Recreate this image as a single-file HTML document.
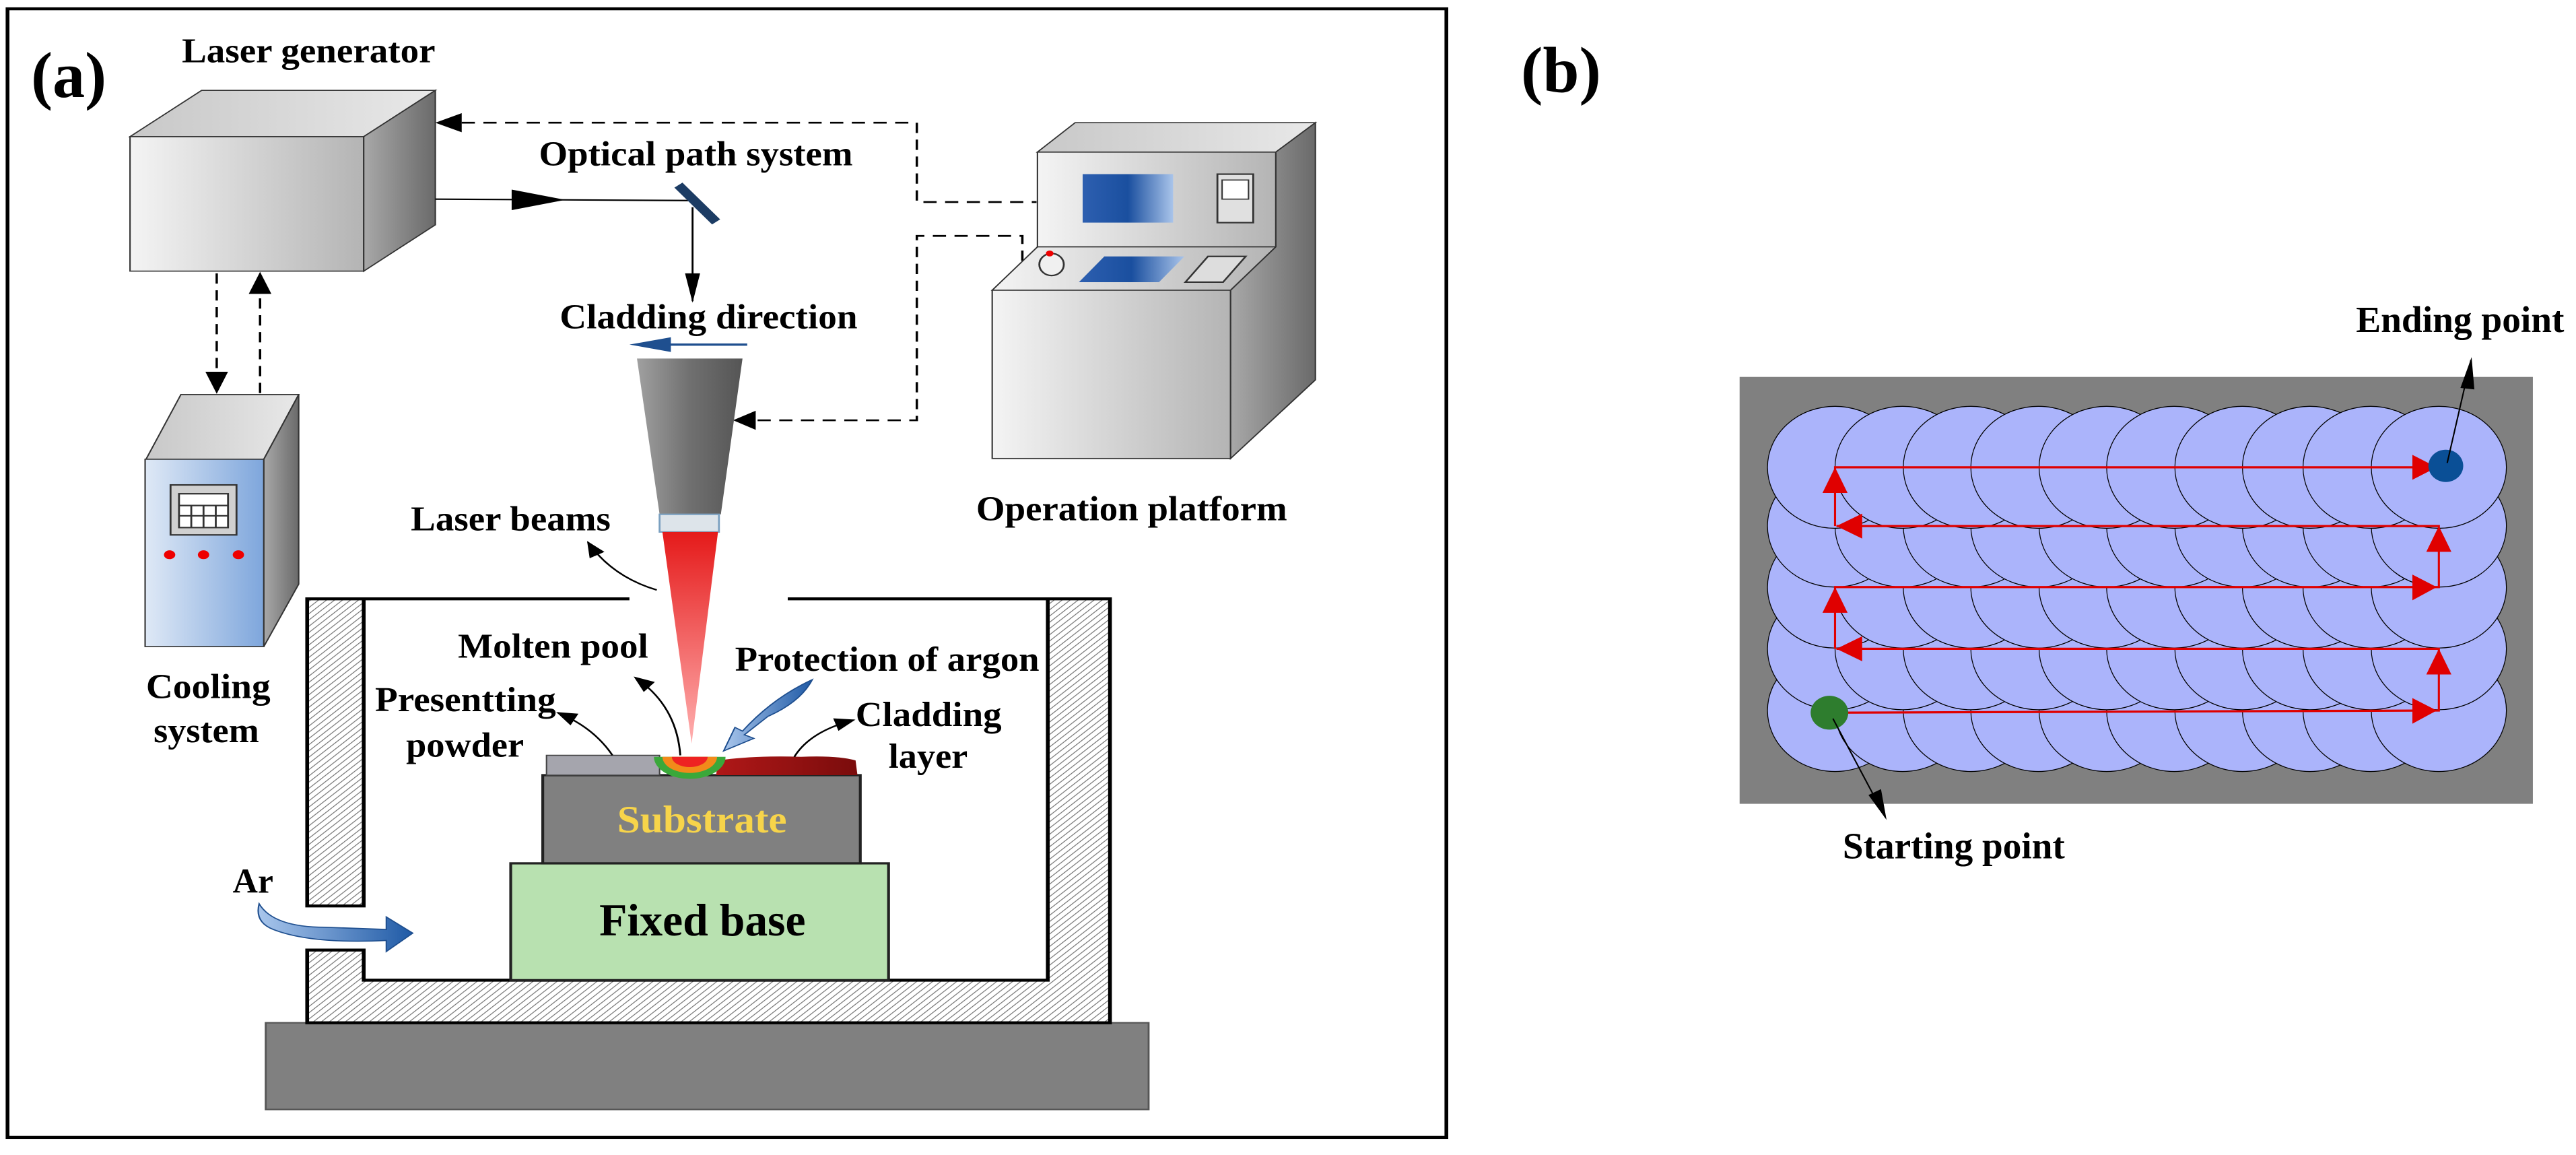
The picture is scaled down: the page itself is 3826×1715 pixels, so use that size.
<!DOCTYPE html>
<html><head><meta charset="utf-8"><style>html,body{margin:0;padding:0;background:#fff}svg{display:block}text{font-family:"Liberation Serif",serif;font-weight:bold}</style></head>
<body>
<svg width="3826" height="1715" viewBox="0 0 3826 1715" xmlns="http://www.w3.org/2000/svg">
<defs>
<linearGradient id="gw" x1="0" x2="1" y1="0" y2="0"><stop offset="0" stop-color="#f4f4f4"/><stop offset="1" stop-color="#b4b4b4"/></linearGradient>
<linearGradient id="gs" x1="0" x2="1"><stop offset="0" stop-color="#a8a8a8"/><stop offset="1" stop-color="#6a6a6a"/></linearGradient>
<linearGradient id="gt" x1="0" x2="1"><stop offset="0" stop-color="#c8c8c8"/><stop offset="1" stop-color="#e8e8e8"/></linearGradient>
<linearGradient id="gb" x1="0" x2="1"><stop offset="0" stop-color="#dfe9f6"/><stop offset="1" stop-color="#7ea6dc"/></linearGradient>
<linearGradient id="gscr" x1="0" x2="1"><stop offset="0" stop-color="#2d5fb0"/><stop offset="0.5" stop-color="#1a4f9f"/><stop offset="1" stop-color="#a9c4ea"/></linearGradient>
<linearGradient id="gn" x1="0" x2="1"><stop offset="0" stop-color="#a0a0a0"/><stop offset="0.5" stop-color="#707070"/><stop offset="1" stop-color="#555"/></linearGradient>
<linearGradient id="gr" x1="0" x2="0" y1="0" y2="1"><stop offset="0" stop-color="#e51a1a"/><stop offset="1" stop-color="#ffb0b0"/></linearGradient>
<linearGradient id="gc" x1="0" x2="1"><stop offset="0" stop-color="#b01818"/><stop offset="1" stop-color="#7a0c0c"/></linearGradient>
<linearGradient id="gar" x1="0" x2="1"><stop offset="0" stop-color="#a9c6ec"/><stop offset="1" stop-color="#1f5aa6"/></linearGradient>
<pattern id="hatch" width="6" height="6" patternUnits="userSpaceOnUse" patternTransform="rotate(45)"><rect width="6" height="6" fill="#fff"/><line x1="0" y1="0" x2="0" y2="6" stroke="#777" stroke-width="2"/></pattern>
<marker id="ah" markerWidth="10" markerHeight="10" refX="9" refY="5" orient="auto" markerUnits="userSpaceOnUse" viewBox="0 0 10 10"><path d="M0,1 L10,5 L0,9 z" fill="#000"/></marker>
<marker id="ahs" markerWidth="22" markerHeight="18" refX="20" refY="9" orient="auto" markerUnits="userSpaceOnUse"><path d="M0,0 L22,9 L0,18 z" fill="#000"/></marker>
</defs>

<g transform="scale(1.3995,1.0910)">
<rect x="8" y="12" width="1527" height="1536" fill="none" stroke="#000" stroke-width="4"/>
<text x="33" y="132" font-size="88" textLength="80" lengthAdjust="spacingAndGlyphs">(a)</text>
<text x="193" y="85" font-size="48" textLength="269" lengthAdjust="spacingAndGlyphs">Laser generator</text>

<!-- laser generator -->
<polygon points="138,186 214,123 462,123 386,186" fill="url(#gt)" stroke="#333" stroke-width="1.5"/>
<rect x="138" y="186" width="248" height="183" fill="url(#gw)" stroke="#333" stroke-width="1.5"/>
<polygon points="386,186 462,123 462,306 386,369" fill="url(#gs)" stroke="#333" stroke-width="1.5"/>

<!-- beam -->
<line x1="462" y1="271" x2="735" y2="273" stroke="#000" stroke-width="2"/>
<polygon points="543,258 600,272 543,286" fill="#000"/>
<line x1="720" y1="252" x2="760" y2="302" stroke="#1c3c64" stroke-width="11"/>
<line x1="735" y1="282" x2="735" y2="410" stroke="#000" stroke-width="2"/>
<polygon points="727,372 735,412 743,372" fill="#000"/>
<text x="572" y="225" font-size="48" textLength="333" lengthAdjust="spacingAndGlyphs">Optical path system</text>
<text x="594" y="447" font-size="48" textLength="316" lengthAdjust="spacingAndGlyphs">Cladding direction</text>
<line x1="793" y1="469" x2="700" y2="469" stroke="#1f4f8f" stroke-width="3"/>
<polygon points="668,469 712,459 712,479" fill="#1f4f8f"/>

<!-- dashed -->
<g fill="none" stroke="#000" stroke-width="2.5" stroke-dasharray="14,9">
<polyline points="490,167 973,167 973,275 1100,275"/>
<polyline points="1085,355 1085,321 973,321 973,572 800,572"/>
<line x1="230" y1="372" x2="230" y2="508"/>
<line x1="276" y1="535" x2="276" y2="398"/>
</g>
<polygon points="462,167 490,154 490,180" fill="#000"/>
<polygon points="778,572 802,559 802,585" fill="#000"/>
<polygon points="230,536 218,506 242,506" fill="#000"/>
<polygon points="276,370 264,400 288,400" fill="#000"/>

<!-- cooling -->
<polygon points="155,625 192,537 317,537 280,625" fill="url(#gt)" stroke="#333" stroke-width="1.5"/>
<rect x="154" y="625" width="126" height="255" fill="url(#gb)" stroke="#333" stroke-width="1.5"/>
<polygon points="280,625 317,537 317,795 280,880" fill="url(#gs)" stroke="#333" stroke-width="1.5"/>
<rect x="181" y="660" width="70" height="68" fill="#d0d0d0" stroke="#333" stroke-width="2"/>
<rect x="190" y="672" width="52" height="46" fill="#fff" stroke="#333" stroke-width="2"/>
<g stroke="#333" stroke-width="2"><line x1="190" y1="688" x2="242" y2="688"/><line x1="190" y1="702" x2="242" y2="702"/><line x1="203" y1="688" x2="203" y2="718"/><line x1="216" y1="688" x2="216" y2="718"/><line x1="229" y1="688" x2="229" y2="718"/></g>
<circle cx="180" cy="755" r="6" fill="#e00"/><circle cx="216" cy="755" r="6" fill="#e00"/><circle cx="253" cy="755" r="6" fill="#e00"/>
<text x="155" y="950" font-size="48" textLength="132" lengthAdjust="spacingAndGlyphs">Cooling</text>
<text x="163" y="1010" font-size="48" textLength="112" lengthAdjust="spacingAndGlyphs">system</text>

<!-- operation platform -->
<polygon points="1101,207 1141,167 1396,167 1354,207" fill="url(#gt)" stroke="#333" stroke-width="1.5"/>
<rect x="1101" y="207" width="253" height="129" fill="url(#gw)" stroke="#333" stroke-width="1.5"/>
<polygon points="1053,395 1101,336 1354,336 1306,395" fill="url(#gw)" stroke="#333" stroke-width="1.5"/>
<rect x="1053" y="395" width="253" height="229" fill="url(#gw)" stroke="#333" stroke-width="1.5"/>
<polygon points="1354,207 1396,167 1396,517 1306,624 1306,395 1354,336" fill="url(#gs)" stroke="#333" stroke-width="1.5"/>
<rect x="1149" y="237" width="96" height="66" fill="url(#gscr)"/>
<rect x="1292" y="237" width="38" height="66" fill="#e0e0e0" stroke="#333" stroke-width="2"/>
<rect x="1297" y="245" width="28" height="26" fill="#fff" stroke="#333" stroke-width="1.5"/>
<polygon points="1145,384 1172,349 1257,349 1230,384" fill="url(#gscr)"/>
<polygon points="1258,384 1282,349 1322,349 1298,384" fill="#ddd" stroke="#333" stroke-width="2"/>
<ellipse cx="1116" cy="360" rx="13" ry="15" fill="#f0f0f0" stroke="#333" stroke-width="2"/>
<circle cx="1114" cy="345" r="4" fill="#e00"/>
<text x="1036" y="708" font-size="48" textLength="330" lengthAdjust="spacingAndGlyphs">Operation platform</text>

<!-- nozzle -->
<polygon points="676,488 788,488 765,700 700,700" fill="url(#gn)"/>
<rect x="700" y="700" width="63" height="24" fill="#dde4ea" stroke="#7aa0c0" stroke-width="2"/>
<polygon points="703,724 762,724 734,1012" fill="url(#gr)"/>
<text x="436" y="722" font-size="48" textLength="212" lengthAdjust="spacingAndGlyphs">Laser beams</text>
<path d="M697,803 Q650,785 624,738" fill="none" stroke="#000" stroke-width="2" marker-end="url(#ahs)"/>

<!-- chamber -->
<rect x="282" y="1392" width="937" height="118" fill="#808080" stroke="#555" stroke-width="2"/>
<path d="M326,815 H386 V1233 H326 Z" fill="url(#hatch)" stroke="#000" stroke-width="4"/>
<path d="M326,1293 H386 V1334 H1112 V815 H1178 V1392 H326 Z" fill="url(#hatch)" stroke="#000" stroke-width="4"/>
<line x1="386" y1="815" x2="668" y2="815" stroke="#000" stroke-width="4"/>
<line x1="836" y1="815" x2="1112" y2="815" stroke="#000" stroke-width="4"/>

<rect x="542" y="1175" width="401" height="159" fill="#b8e1b0" stroke="#222" stroke-width="3"/>
<text x="636" y="1273" font-size="62" textLength="219" lengthAdjust="spacingAndGlyphs">Fixed base</text>
<rect x="576" y="1055" width="337" height="120" fill="#808080" stroke="#222" stroke-width="3"/>
<text x="655" y="1133" font-size="52" fill="#f7d44a" textLength="180" lengthAdjust="spacingAndGlyphs">Substrate</text>
<rect x="580" y="1028" width="120" height="27" fill="#a5a5ad" stroke="#444" stroke-width="1.5"/>
<path d="M760,1055 L762,1035 Q800,1028 850,1030 Q890,1028 908,1035 L910,1055 Z" fill="url(#gc)"/>
<path d="M694,1030 A38,30 0 0 0 770,1030 Z" fill="#3aa83a"/>
<path d="M703,1030 A29,22 0 0 0 761,1030 Z" fill="#f28a1a"/>
<path d="M713,1030 A19,14 0 0 0 751,1030 Z" fill="#e22"/>

<text x="486" y="895" font-size="48" textLength="202" lengthAdjust="spacingAndGlyphs">Molten pool</text>
<path d="M722,1028 Q718,960 674,922" fill="none" stroke="#000" stroke-width="2" marker-end="url(#ahs)"/>
<text x="398" y="968" font-size="48" textLength="192" lengthAdjust="spacingAndGlyphs">Presentting</text>
<text x="431" y="1030" font-size="48" textLength="125" lengthAdjust="spacingAndGlyphs">powder</text>
<path d="M650,1028 Q630,990 592,970" fill="none" stroke="#000" stroke-width="2" marker-end="url(#ahs)"/>
<text x="780" y="913" font-size="48" textLength="323" lengthAdjust="spacingAndGlyphs">Protection of argon</text>
<path d="M862,925 Q850,955 815,975 L790,1000 L800,1005 L768,1022 L780,990 L788,995 Q820,950 862,925 Z" fill="url(#gar)" stroke="#1f4f8f" stroke-width="1.5"/>
<text x="908" y="988" font-size="48" textLength="155" lengthAdjust="spacingAndGlyphs">Cladding</text>
<text x="943" y="1045" font-size="48" textLength="84" lengthAdjust="spacingAndGlyphs">layer</text>
<path d="M843,1030 Q860,995 906,980" fill="none" stroke="#000" stroke-width="2" marker-end="url(#ahs)"/>
<text x="247" y="1215" font-size="48" textLength="43" lengthAdjust="spacingAndGlyphs">Ar</text>
<path d="M275,1230 Q290,1262 345,1262 L410,1265 L410,1248 L438,1270 L410,1295 L410,1280 Q330,1285 290,1265 Q270,1255 275,1230 Z" fill="url(#gar)" stroke="#1f4f8f" stroke-width="1.5"/>
</g>

<g transform="translate(2200,0) scale(1.0344,1.0910)">
<text x="57" y="125" font-size="88" textLength="115" lengthAdjust="spacingAndGlyphs">(b)</text>
<rect x="371" y="513" width="1139" height="581" fill="#808080"/>
<g fill="#abb4fb" stroke="#000" stroke-width="1.2">
<g id="r5"><ellipse cx="508" cy="967" rx="97" ry="83"/><ellipse cx="605" cy="967" rx="97" ry="83"/><ellipse cx="703" cy="967" rx="97" ry="83"/><ellipse cx="800" cy="967" rx="97" ry="83"/><ellipse cx="898" cy="967" rx="97" ry="83"/><ellipse cx="995" cy="967" rx="97" ry="83"/><ellipse cx="1093" cy="967" rx="97" ry="83"/><ellipse cx="1190" cy="967" rx="97" ry="83"/><ellipse cx="1277" cy="967" rx="97" ry="83"/><ellipse cx="1375" cy="967" rx="97" ry="83"/></g>
<use href="#r5" transform="translate(0,-84)"/>
<use href="#r5" transform="translate(0,-168)"/>
<use href="#r5" transform="translate(0,-251)"/>
<use href="#r5" transform="translate(0,-331)"/>
</g>
<g stroke="#e00000" stroke-width="3" fill="none">
<polyline points="500,970 1375,967 1375,883 510,883"/>
<polyline points="508,883 508,799 1375,799 1375,716 510,716"/>
<polyline points="508,716 508,636 1370,636"/>
</g>
<g fill="#e00000">
<polygon points="1372,967 1337,950 1337,985"/>
<polygon points="1372,799 1337,782 1337,817"/>
<polygon points="1372,636 1337,619 1337,653"/>
<polygon points="510,883 547,866 547,900"/>
<polygon points="510,716 547,699 547,733"/>
<polygon points="1375,883 1357,918 1393,918"/>
<polygon points="1375,716 1357,751 1393,751"/>
<polygon points="508,799 490,834 526,834"/>
<polygon points="508,636 490,671 526,671"/>
</g>
<ellipse cx="500" cy="970" rx="27" ry="23" fill="#2e7d2e"/>
<ellipse cx="1385" cy="634" rx="25" ry="22" fill="#0a4f96"/>
<line x1="505" y1="978" x2="580" y2="1112" stroke="#000" stroke-width="2"/>
<polygon points="582,1116 556,1082 574,1074" fill="#000"/>
<line x1="1387" y1="630" x2="1421" y2="490" stroke="#000" stroke-width="2"/>
<polygon points="1422,486 1406,528 1426,530" fill="#000"/>
<text x="1256" y="452" font-size="50" textLength="299" lengthAdjust="spacingAndGlyphs">Ending point</text>
<text x="519" y="1168" font-size="50" textLength="319" lengthAdjust="spacingAndGlyphs">Starting point</text>
</g>
</svg>
</body></html>
